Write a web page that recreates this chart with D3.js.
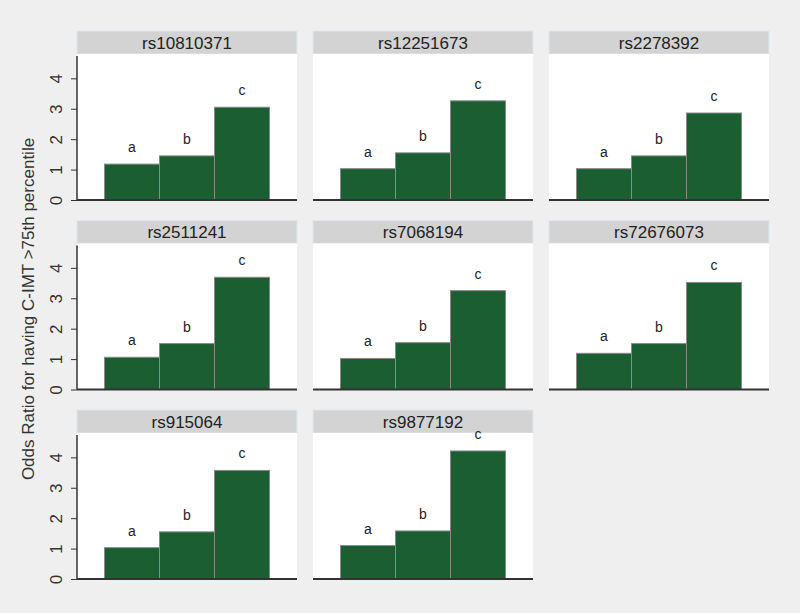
<!DOCTYPE html>
<html>
<head>
<meta charset="utf-8">
<script src="https://cdn.jsdelivr.net/npm/d3@7"></script>
<style>
  body { margin: 0; background: #efefef; }
  svg { display: block; font-family: "Liberation Sans", Arial, sans-serif; }
</style>
</head>
<body>
<svg width="800" height="613"></svg>
<script>
var svg = d3.select("svg"),
  width = +svg.attr("width"),
  height = +svg.attr("height");

// data
var snps = ["rs10810371", "rs12251673", "rs2278392", "rs2511241",
  "rs7068194", "rs72676073", "rs915064", "rs9877192"];
var groups = ["a", "b", "c"];
var valsA = [1.18, 1.03, 1.03, 1.06, 1.02, 1.19, 1.03, 1.10];
var valsB = [1.45, 1.55, 1.45, 1.51, 1.54, 1.51, 1.55, 1.58];
var valsC = [3.05, 3.26, 2.86, 3.69, 3.25, 3.52, 3.57, 4.21];
var yTicks = [0, 1, 2, 3, 4];

svg.append("rect").attr("width", width).attr("height", height).attr("fill", "#efefef");

const panelW = 220;
const stripH = 23;
const plotH = 146;
const colX = [77, 313, 549];
const rowY = [31, 220.5, 410];

const yScale = d3.scaleLinear().domain([0, 4.8]).range([plotH, 0]);
const xScale = d3.scaleBand().domain(groups).range([27.5, 192.5]).padding(0);

snps.forEach(function (snp, i) {
  var vals = [valsA[i], valsB[i], valsC[i]];
  var col = i % 3;
  var g = svg.append("g")
    .attr("transform", "translate(" + colX[col] + "," + rowY[Math.floor(i / 3)] + ")");

  // strip
  g.append("rect")
    .attr("x", 0).attr("y", 0)
    .attr("width", panelW).attr("height", stripH)
    .attr("fill", "#d3d3d3")
    .attr("stroke", "#dfe8ee").attr("stroke-width", 1);
  g.append("text")
    .attr("x", panelW / 2).attr("y", stripH / 2 + 6)
    .attr("text-anchor", "middle")
    .attr("font-size", 17)
    .attr("fill", "#222")
    .text(snp);

  var p = g.append("g").attr("transform", "translate(0," + stripH + ")");
  p.append("rect")
    .attr("width", panelW).attr("height", plotH)
    .attr("fill", "#ffffff");

  p.selectAll("rect.bar")
    .data(vals)
    .enter()
    .append("rect")
    .attr("class", "bar")
    .attr("x", function (d, j) { return xScale(groups[j]); })
    .attr("y", function (d) { return yScale(d); })
    .attr("width", xScale.bandwidth())
    .attr("height", function (d) { return yScale(0) - yScale(d); })
    .attr("fill", "#1a5e32")
    .attr("stroke", "#8a8a8a")
    .attr("stroke-width", 1);

  p.selectAll("text.lab")
    .data(vals)
    .enter()
    .append("text")
    .attr("class", "lab")
    .attr("x", function (d, j) { return xScale(groups[j]) + xScale.bandwidth() / 2; })
    .attr("y", function (d) { return yScale(d) - 12; })
    .attr("text-anchor", "middle")
    .attr("font-size", 14)
    .attr("fill", "#222")
    .text(function (d, j) { return groups[j]; });

  // y axis only on the first column
  if (col === 0) {
    var yAxis = d3.axisLeft(yScale).tickValues(yTicks).tickSize(6)
      .tickFormat(d3.format("d"));
    var ya = p.append("g").call(yAxis);
    ya.select(".domain").remove();
    ya.selectAll(".tick line").attr("stroke", "#333");
    ya.selectAll(".tick text")
      .attr("font-size", 17)
      .attr("fill", "#333")
      .attr("text-anchor", "middle")
      .attr("transform", "rotate(-90,-21,0)")
      .attr("x", -21).attr("dy", "0.35em");
    p.append("line")
      .attr("x1", 0).attr("x2", 0)
      .attr("y1", 2).attr("y2", plotH)
      .attr("stroke", "#333").attr("stroke-width", 1.5);
  }

  // bottom line
  p.append("line")
    .attr("x1", 0).attr("x2", panelW)
    .attr("y1", plotH).attr("y2", plotH)
    .attr("stroke", "#333").attr("stroke-width", 2);
});

svg.append("text")
  .attr("transform", "translate(34,309) rotate(-90)")
  .attr("text-anchor", "middle")
  .attr("font-size", 17)
  .attr("fill", "#333")
  .text("Odds Ratio for having C-IMT >75th percentile");
</script>
</body>
</html>
